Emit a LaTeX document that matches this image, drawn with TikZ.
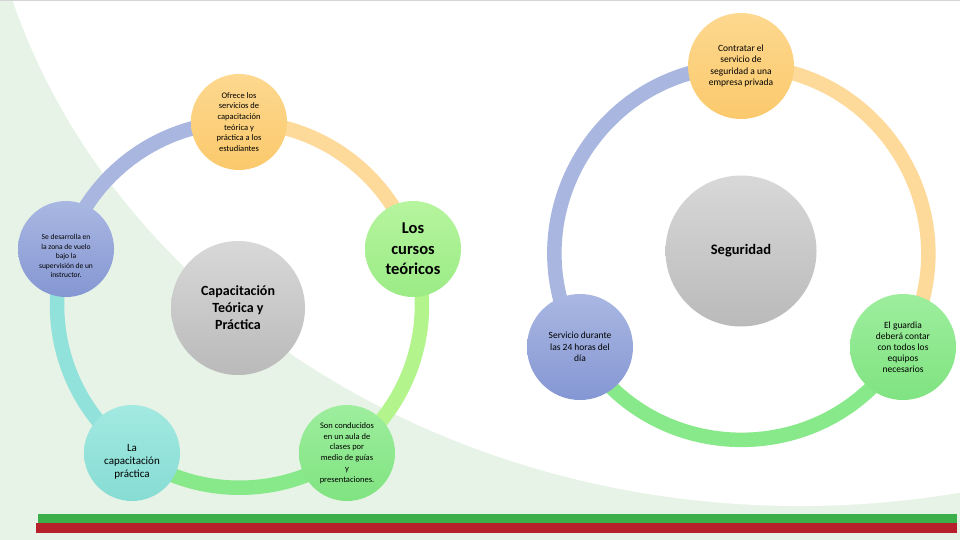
\documentclass[tikz,border=0pt]{standalone}
\usepackage{fontspec}
\setmainfont{Carlito}
\pgfdeclarelayer{back}
\pgfdeclarelayer{bg}
\pgfsetlayers{back,bg,main}
\definecolor{bggreen}{HTML}{E7F3E6}
\definecolor{topline}{HTML}{D4D4D4}
\definecolor{barG}{HTML}{3BB04A}
\definecolor{barR}{HTML}{B71F2A}
\definecolor{orT}{HTML}{FDD88F}
\definecolor{orB}{HTML}{FBC96C}
\definecolor{blT}{HTML}{A9B7E2}
\definecolor{blB}{HTML}{8597D3}
\definecolor{tlT}{HTML}{A2E9E1}
\definecolor{tlB}{HTML}{86DCD3}
\definecolor{gnT}{HTML}{9DEE9D}
\definecolor{gnB}{HTML}{80E381}
\definecolor{lmT}{HTML}{B6F59E}
\definecolor{lmB}{HTML}{9BEB86}
\definecolor{gyT}{HTML}{D8D8D8}
\definecolor{gyB}{HTML}{BABABA}
\definecolor{arcBlue}{HTML}{A8B6E0}
\definecolor{arcTeal}{HTML}{90E2DA}
\definecolor{arcGreen}{HTML}{88E98A}
\definecolor{arcLime}{HTML}{B3F48C}
\definecolor{arcOrange}{HTML}{FDDA9A}
\begin{document}
\begin{tikzpicture}[x=1pt,y=-1pt,
  bub/.style={circle, inner sep=0pt, minimum size=96pt, align=center, text=black},
  bubR/.style={bub, minimum size=106pt},
  ringL/.style={line width=14.5pt, line cap=butt, bend right=36, looseness=0.94},
  ringR/.style={line width=14.5pt, line cap=butt, bend right=60, looseness=1.135},
  fS/.style={font=\fontsize{8.5}{10.7}\selectfont},
  fXS/.style={font=\fontsize{7.5}{9.5}\selectfont},
  fM/.style={font=\fontsize{9.5}{11.3}\selectfont},
  fB/.style={font=\bfseries\fontsize{14}{17}\selectfont}
]
\useasboundingbox (0,0) rectangle (960,540);
\begin{pgfonlayer}{back}
  \begin{scope}
    \clip (0,0) rectangle (960,540);
    \fill[bggreen] (0,0) rectangle (960,540);
    \fill[white] (800,-200) ellipse [x radius=821, y radius=706];
    \draw[topline, line width=1.2pt] (0,0.8) -- (960,0.8);
    \fill[barG] (38,514) rectangle (957,523);
    \fill[barR] (36,523) rectangle (957,533);
  \end{scope}
\end{pgfonlayer}

% left cycle
\node[bub, top color=gyT, bottom color=gyB, minimum size=134pt, fB] (C) at (238,308) {Capacitación\\Teórica y\\Práctica};
\node[bub, top color=orT, bottom color=orB, fS] (T) at (239,122) {Ofrece los\\servicios de\\capacitación\\teórica y\\práctica a los\\estudiantes};
\node[bub, top color=blT, bottom color=blB,
  label={[name=Lt, fXS, align=center, yshift=-7pt]center:Se desarrolla en\\la zona de vuelo\\bajo la\\supervisión de un\\instructor.}] (L) at (66,249) {};
\node[bub, top color=tlT, bottom color=tlB,
  label={[name=BLt, font=\fontsize{11}{13}\selectfont, align=center, yshift=-9pt]center:La\\capacitación\\práctica}] (BL) at (132,453) {};
\node[bub, top color=gnT, bottom color=gnB, fS] (BR) at (347,453) {Son conducidos\\en un aula de\\clases por\\medio de guías\\y\\presentaciones.};
\node[bub, top color=lmT, bottom color=lmB, font=\bfseries\fontsize{16.5}{20.5}\selectfont] (R) at (413,249) {Los\\cursos\\teóricos};

% right cycle
\node[bub, top color=gyT, bottom color=gyB, minimum size=151pt, font=\bfseries\fontsize{14.5}{17}\selectfont] (C2) at (741,251) {Seguridad};
\node[bubR, top color=orT, bottom color=orB, fM] (T2) at (741,66) {Contratar el\\servicio de\\seguridad a una\\empresa privada};
\node[bubR, top color=blT, bottom color=blB, fM] (L2) at (580,347) {Servicio durante\\las 24 horas del\\día};
\node[bubR, top color=gnT, bottom color=gnB, font=\fontsize{9.5}{11}\selectfont] (R2) at (903,347) {El guardia\\deberá contar\\con todos los\\equipos\\necesarios};

\begin{pgfonlayer}{bg}
  \draw[ringL, arcBlue] (T.center) to (L.center);
  \draw[ringL, arcTeal] (L.center) to (BL.center);
  \draw[ringL, arcGreen] (BL.center) to (BR.center);
  \draw[ringL, arcLime] (BR.center) to (R.center);
  \draw[ringL, arcOrange] (R.center) to (T.center);
  \draw[ringR, arcBlue] (T2.center) to (L2.center);
  \draw[ringR, arcGreen] (L2.center) to (R2.center);
  \draw[ringR, arcOrange] (R2.center) to (T2.center);
\end{pgfonlayer}
\end{tikzpicture}
\end{document}
